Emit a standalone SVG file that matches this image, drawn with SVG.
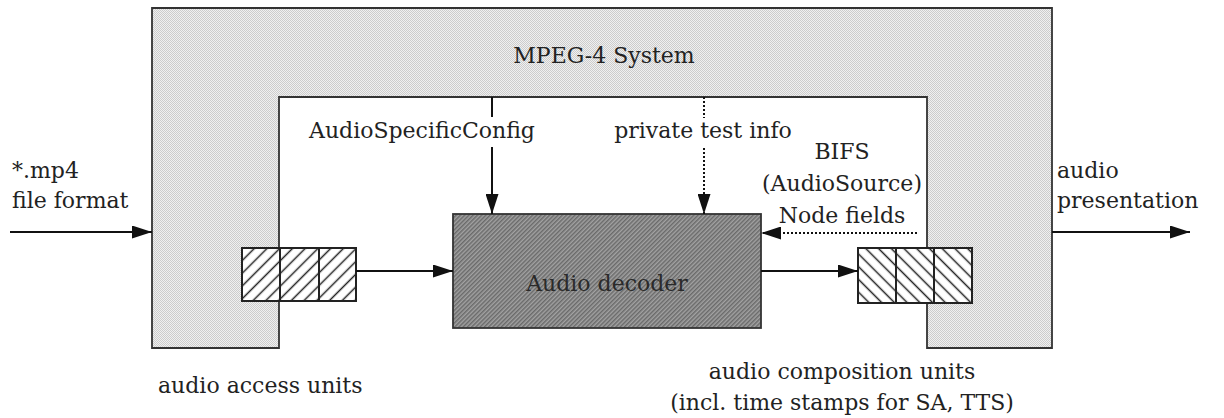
<svg xmlns="http://www.w3.org/2000/svg" width="1224" height="418" viewBox="0 0 1224 418">
<style>
text{font-family:"DejaVu Serif","Liberation Serif",serif;font-size:22px;fill:#222}
.c{text-anchor:middle}
.ln{fill:none;stroke:#111;stroke-width:2}
.dot{fill:none;stroke:#111;stroke-width:2;stroke-dasharray:2 2}
.cell{stroke:#222;stroke-width:2}
</style>
<defs>
<pattern id="lg" width="2" height="2" patternUnits="userSpaceOnUse"><rect width="2" height="2" fill="#f0f0f0"/><rect width="1" height="1" fill="#cccccc"/><rect x="1" y="1" width="1" height="1" fill="#cccccc"/></pattern>
<pattern id="dk" width="3" height="3" patternUnits="userSpaceOnUse" patternTransform="rotate(45)"><rect width="3" height="3" fill="#a2a2a2"/><rect width="1.5" height="3" fill="#6a6a6a"/></pattern>
<pattern id="hl" width="9" height="9" patternUnits="userSpaceOnUse" patternTransform="rotate(45)"><rect width="9" height="9" fill="#fff"/><line x1="4.5" y1="0" x2="4.5" y2="9" stroke="#222" stroke-width="1.5"/></pattern>
<pattern id="hr" width="9" height="9" patternUnits="userSpaceOnUse" patternTransform="rotate(-45)"><rect width="9" height="9" fill="#fff"/><line x1="4.5" y1="0" x2="4.5" y2="9" stroke="#222" stroke-width="1.5"/></pattern>
<marker id="ah" markerUnits="userSpaceOnUse" markerWidth="20" markerHeight="13" refX="20" refY="6.5" orient="auto"><path d="M0,0 L20,6.5 L0,13 z" fill="#111"/></marker>
</defs>
<g id="system">
<path d="M152,8 H1052 V348 H927 V97 H279 V348 H152 Z" fill="url(#lg)" stroke="#333" stroke-width="1.8"/>
<text class="c" x="604" y="63">MPEG-4 System</text>
</g>
<g id="decoder">
<rect x="453" y="214" width="308" height="114" fill="url(#dk)" stroke="#333" stroke-width="1.8"/>
<text class="c" x="607" y="291" style="fill:#2a2a2a">Audio decoder</text>
</g>
<g id="access-units">
<rect class="cell" x="242" y="248" width="38" height="53" fill="url(#hl)"/>
<rect class="cell" x="280" y="248" width="39" height="53" fill="url(#hl)"/>
<rect class="cell" x="319" y="248" width="37" height="53" fill="url(#hl)"/>
<text x="158" y="393">audio access units</text>
</g>
<g id="composition-units">
<rect class="cell" x="858" y="248" width="38" height="55" fill="url(#hr)"/>
<rect class="cell" x="896" y="248" width="38" height="55" fill="url(#hr)"/>
<rect class="cell" x="934" y="248" width="38" height="55" fill="url(#hr)"/>
<text class="c" x="842" y="379">audio composition units</text>
<text class="c" x="842" y="410">(incl. time stamps for SA, TTS)</text>
</g>
<g id="input-label">
<text x="12" y="178">*.mp4</text>
<text x="12" y="208">file format</text>
</g>
<g id="output-label">
<text x="1057" y="178">audio</text>
<text x="1057" y="208">presentation</text>
</g>
<g id="asc-label"><text x="309" y="138">AudioSpecificConfig</text></g>
<g id="pti-label"><text class="c" x="703" y="138">private test info</text></g>
<g id="bifs-label">
<text class="c" x="842" y="159">BIFS</text>
<text class="c" x="842" y="191">(AudioSource)</text>
<text class="c" x="842" y="223">Node fields</text>
</g>
<g id="connectors">
<path class="ln" d="M10,232 H152" marker-end="url(#ah)"/>
<path class="ln" d="M1052,232 H1190" marker-end="url(#ah)"/>
<path class="ln" d="M356,271 H453" marker-end="url(#ah)"/>
<path class="ln" d="M761,271 H858" marker-end="url(#ah)"/>
<path class="dot" d="M917,233 H761" marker-end="url(#ah)"/>
<path class="ln" d="M492,97 V117"/>
<path class="ln" d="M492,147 V214" marker-end="url(#ah)"/>
<path class="dot" d="M704,97 V118"/>
<path class="dot" d="M704,148 V214" marker-end="url(#ah)"/>
</g>
</svg>
